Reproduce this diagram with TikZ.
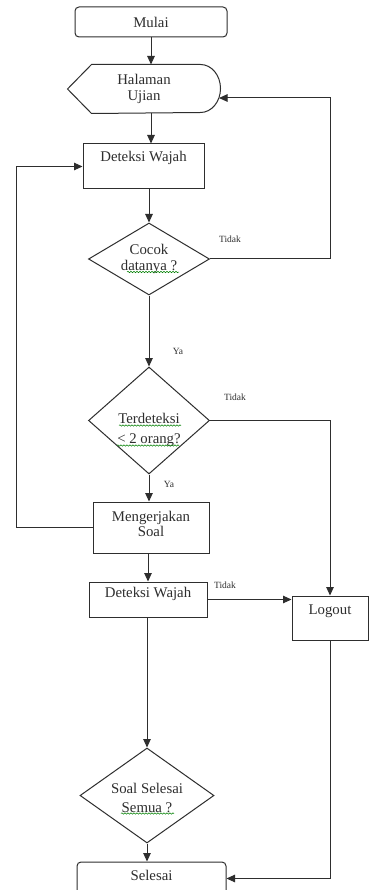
\documentclass[tikz,border=0pt]{standalone}
\usepackage{fontspec}
\setmainfont{Liberation Serif}
\usetikzlibrary{arrows.meta,shapes.geometric,decorations.pathmorphing,calc}
\begin{document}
\begin{tikzpicture}[x=1pt,y=-1pt,line width=1pt,color=black!82,
  every node/.style={font=\fontsize{14.8}{15.5}\selectfont, inner sep=0pt, align=center},
  rbox/.style={draw, rectangle, rounded corners=4pt},
  sbox/.style={draw, rectangle},
  dia/.style={draw, diamond},
  small/.style={font=\fontsize{9.5}{10}\selectfont},
  arr/.style={-{Triangle[length=8.5pt,width=7.5pt]}},
  squig/.style={green!50!black, line width=0.5pt, decorate, decoration={snake, amplitude=0.7pt, segment length=3pt}}]
\fill[white] (0,0) rectangle (373,890);
\useasboundingbox (0,0) rectangle (373,890);

\node[rbox, minimum width=152, minimum height=30] (mulai) at (151,22) {Mulai};
\node[minimum width=152, minimum height=48] (hal) at (144,89) {Halaman\\Ujian};
\draw ([xshift=24pt]hal.north west) -- ([xshift=-20pt]hal.north east)
  arc[start angle=-90, end angle=90, x radius=20, y radius=24]
  -- ([xshift=24pt]hal.south west) -- (hal.west) -- cycle;
\coordinate (halin) at ($(hal.east)+(-1.5,9)$);

\node[sbox, minimum width=121, minimum height=45, label={[yshift=8.5pt]center:{Deteksi Wajah}}] (d1) at (143.5,166.5) {};
\node[dia, minimum width=121, minimum height=72, label={center:{Cocok\\datanya ?}}] (c1) at (149,259) {};
\node[dia, minimum width=121, minimum height=107, label={[yshift=-9.5pt]center:{Terdeteksi\\[4pt]< 2 orang?}}] (c2) at (149,420.5) {};
\node[sbox, minimum width=116, minimum height=51, label={[yshift=3.5pt]center:{Mengerjakan\\Soal}}] (mk) at (151,527.5) {};
\node[sbox, minimum width=118, minimum height=35, label={[yshift=5.5pt]center:{Deteksi Wajah}}] (d2) at (148,599.5) {};
\node[sbox, minimum width=76, minimum height=44, label={[yshift=6.5pt]center:{Logout}}] (lo) at (330,618) {};
\node[dia, minimum width=134, minimum height=95, label={[yshift=-2.5pt]center:{Soal Selesai\\[4pt]Semua ?}}] (soal) at (147,795.5) {};
\node[rbox, minimum width=149, minimum height=33, label={[yshift=3.5pt]center:{Selesai}}] (sel) at (151.5,878.5) {};

\coordinate (rcol) at (330,0);
\coordinate (lcol) at (16,0);

\draw[arr] (mulai.south) -- (mulai.south |- hal.north);
\draw[arr] (mulai.south |- hal.south) -- (mulai.south |- d1.north);
\draw[arr] (c1.north |- d1.south) -- (c1.north);
\draw[arr] (c1.south) -- (c2.north);
\draw[arr] (c2.south) -- (c2.south |- mk.north);
\draw[arr] (d2.north |- mk.south) -- (d2.north);
\draw[arr] (soal.north |- d2.south) -- (soal.north);
\draw[arr] (soal.south) -- (soal.south |- sel.north);
\draw[arr] (c1.east) -| (rcol |- halin) -- (halin);
\draw[arr] (c2.east) -| (lo.north);
\draw[arr] (d2.east) -- (d2.east -| lo.west);
\draw[arr] (lo.south) |- (sel.east);
\draw[arr] (mk.west) -| (lcol |- d1.west) -- (d1.west);

\node[small] (t1) at (230,239) {Tidak};
\node[small] (t2) at (235,397) {Tidak};
\node[small] (t3) at (225,585) {Tidak};
\node[small] (y1) at (178,351) {Ya};
\node[small] (y2) at (169,484) {Ya};

\draw[squig] ($(c1)+(-22,13)$) -- ($(c1)+(30,13)$);
\draw[squig] ($(c2)+(-30,5)$) -- ($(c2)+(32,5)$);
\draw[squig] ($(c2)+(-32,25)$) -- ($(c2)+(30,25)$);
\draw[squig] ($(soal)+(-26,18)$) -- ($(soal)+(27,18)$);
\end{tikzpicture}
\end{document}
